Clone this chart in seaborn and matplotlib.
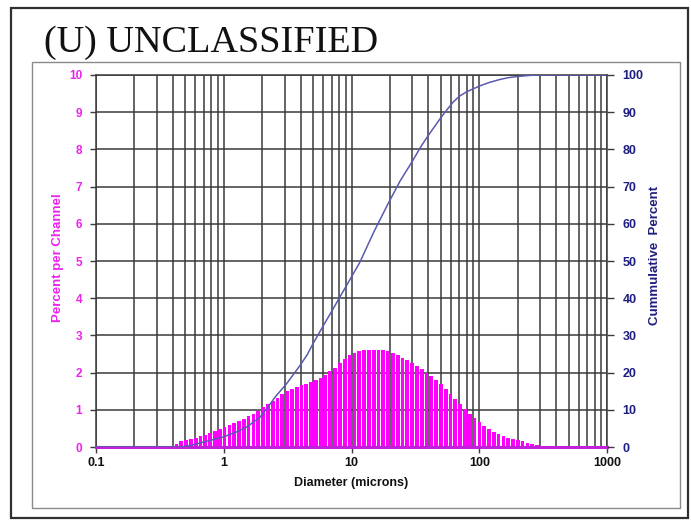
import numpy as np
import matplotlib
matplotlib.use("Agg")
import matplotlib.pyplot as plt
from matplotlib.patches import Rectangle
from matplotlib.ticker import FixedLocator, FixedFormatter, NullFormatter
import seaborn as sns

# ---------------- data ----------------
# Channel upper-edge diameters (microns), ratio 2^(1/8)
channel_upper = [0.446, 0.486, 0.530, 0.578, 0.630, 0.688, 0.750, 0.818, 0.892, 0.972,
                 1.060, 1.156, 1.261, 1.375, 1.499, 1.635, 1.783, 1.945, 2.121, 2.312,
                 2.522, 2.750, 2.999, 3.270, 3.566, 3.889, 4.241, 4.625, 5.044, 5.500,
                 5.998, 6.541, 7.133, 7.778, 8.482, 9.250, 10.09, 11.00, 12.00, 13.08,
                 14.27, 15.56, 16.96, 18.50, 20.17, 22.00, 23.99, 26.16, 28.53, 31.11,
                 33.93, 37.00, 40.35, 44.00, 47.98, 52.33, 57.06, 62.23, 67.86, 74.00,
                 80.70, 88.00, 95.96, 104.7, 114.1, 124.5, 135.7, 148.0, 161.4, 176.0,
                 191.9, 209.3, 228.2, 248.9, 271.4, 296.0]
percent_channel = [0.07, 0.15, 0.18, 0.21, 0.25, 0.29, 0.33, 0.37, 0.43, 0.48,
                   0.54, 0.59, 0.65, 0.70, 0.76, 0.82, 0.89, 0.98, 1.07, 1.15,
                   1.25, 1.33, 1.42, 1.50, 1.56, 1.61, 1.66, 1.70, 1.74, 1.79,
                   1.85, 1.93, 2.03, 2.13, 2.25, 2.37, 2.46, 2.53, 2.58, 2.61,
                   2.62, 2.62, 2.62, 2.60, 2.57, 2.52, 2.46, 2.40, 2.33, 2.25,
                   2.17, 2.09, 2.00, 1.91, 1.80, 1.69, 1.56, 1.43, 1.30, 1.16,
                   1.02, 0.89, 0.77, 0.66, 0.57, 0.49, 0.41, 0.35, 0.29, 0.25,
                   0.21, 0.18, 0.15, 0.12, 0.09, 0.06]

cum_diameter = [0.1, 0.45, 0.55, 0.69, 0.99, 1.25, 1.52, 1.92, 2.2, 2.52, 3.1, 3.95,
                4.5, 5.0, 6.35, 7.2, 8.1, 9.0, 11.6, 15.0, 19.4, 24.0, 29.8, 35.0,
                40.0, 49.5, 56.0, 62.8, 70.0, 79.8, 101.5, 120, 145, 170, 200, 250,
                300, 1000]
cum_percent = [0, 0, 0.4, 1.3, 2.7, 4.0, 5.4, 8.0, 10.5, 13.4, 17.0, 21.9,
               24.8, 27.8, 34.0, 37.2, 40.3, 43.0, 49.6, 57.9, 65.5, 71.5, 76.7, 80.8,
               83.8, 88.3, 90.7, 92.8, 94.3, 95.5, 97.1, 98.0, 98.8, 99.3, 99.6, 99.9,
               100, 100]

x_ticks = [0.1, 1, 10, 100, 1000]
x_tick_labels = ["0.1", "1", "10", "100", "1000"]
left_ticks = list(range(0, 11))
right_ticks = list(range(0, 101, 10))

# ---------------- style ----------------
sns.set_style("white")
plt.rcParams['font.family'] = ['Liberation Sans', 'DejaVu Sans']

W, H = 691, 520
fig = plt.figure(figsize=(W / 100, H / 100), dpi=100)

def fx(px):
    return px / W

def fy(py):
    return 1 - py / H

MAG = '#FF00FF'
MAG_TXT = '#EE22EE'
NAVY = '#1E1E82'
CURVE = '#5A5AAE'
GRID = '#3a3a3a'

# frames
fig.patches.append(Rectangle((fx(11), fy(518)), fx(688) - fx(11), fy(8) - fy(518),
                             transform=fig.transFigure, fill=False, ec='#303030', lw=1.6))
fig.patches.append(Rectangle((fx(32), fy(508)), fx(680) - fx(32), fy(62) - fy(508),
                             transform=fig.transFigure, fill=False, ec='#8a8a8a', lw=1.0))

fig.text(fx(44), fy(51.5), '(U) UNCLASSIFIED', family=['Liberation Serif', 'DejaVu Serif'],
         fontsize=27.5, va='baseline', ha='left', color='#111111')

ax = fig.add_axes([fx(96), fy(447), fx(607) - fx(96), fy(75) - fy(447)])
ax.set_xscale('log')
ax.set_xlim(0.1, 1000)
ax.set_ylim(0, 10)

# bars
up = np.array(channel_upper)
ratio = 2 ** (1 / 8)
centers = up / np.sqrt(ratio)
frac = 0.78
lefts = centers * ratio ** (-frac / 2)
rights = centers * ratio ** (frac / 2)
ax.bar(lefts, percent_channel, width=rights - lefts, align='edge', color=MAG,
       edgecolor='none', zorder=3)

ax.set_axisbelow(True)
ax.xaxis.set_major_locator(FixedLocator(x_ticks))
ax.xaxis.set_major_formatter(FixedFormatter(x_tick_labels))
minors = [m * 10.0 ** e for e in range(-1, 3) for m in range(2, 10)]
ax.xaxis.set_minor_locator(FixedLocator(minors))
ax.xaxis.set_minor_formatter(NullFormatter())
ax.grid(True, which='both', axis='x', color=GRID, lw=1.1)
ax.grid(True, which='major', axis='y', color=GRID, lw=1.1)
ax.set_yticks(left_ticks)
ax.set_yticklabels([str(v) for v in left_ticks])
ax.tick_params(axis='y', which='both', left=True, length=4, width=1, color=GRID,
               labelcolor=MAG_TXT, labelsize=8.5, pad=6)
for t in ax.get_yticklabels():
    t.set_fontweight('bold')
ax.tick_params(axis='x', which='major', bottom=True, length=4, width=1, color=GRID,
               labelsize=9, pad=3, labelcolor='#111111')
ax.tick_params(axis='x', which='minor', bottom=False)
for t in ax.get_xticklabels():
    t.set_fontweight('bold')
for s in ['left', 'right', 'top']:
    ax.spines[s].set_color(GRID)
    ax.spines[s].set_linewidth(1.1)
ax.spines['bottom'].set_color('#C020D8')
ax.spines['bottom'].set_linewidth(2.2)
ax.spines['bottom'].set_zorder(4)

# cumulative
ax2 = ax.twinx()
sns.lineplot(x=cum_diameter, y=cum_percent, ax=ax2, color=CURVE, lw=1.1, zorder=5)
ax2.set_ylim(0, 100)
ax2.set_xlim(0.1, 1000)
ax2.set_yticks(right_ticks)
ax2.set_yticklabels([str(v) for v in right_ticks])
ax2.tick_params(axis='y', right=True, length=5, width=1, color=GRID,
                labelcolor=NAVY, labelsize=9, pad=6)
for t in ax2.get_yticklabels():
    t.set_fontweight('bold')
ax2.set_ylabel('')
ax2.set_xlabel('')
for s in ax2.spines.values():
    s.set_visible(False)

fig.text(fx(351), fy(483), 'Diameter (microns)', ha='center', va='center',
         fontsize=9, fontweight='bold', color='#111111')
fig.text(fx(58), fy(258), 'Percent per Channel', ha='center', va='center', rotation=90,
         fontsize=9.5, fontweight='bold', color=MAG_TXT)
fig.text(fx(655), fy(255), 'Cummulative  Percent', ha='center', va='center', rotation=90,
         fontsize=9.5, fontweight='bold', color=NAVY)

fig.savefig('out.png', dpi=100)
